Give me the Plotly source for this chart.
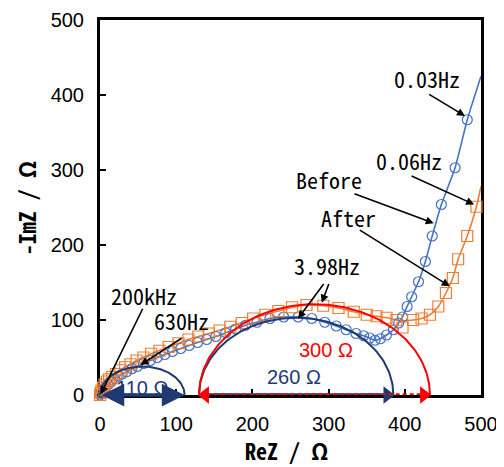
import numpy as np
import plotly.graph_objects as go

# ---------------- data ----------------
before_x = [0, 1, 3, 5, 8, 11, 15, 19, 24, 29, 35, 42, 49, 57, 66, 75, 85, 95, 106, 117,
            128, 140, 152, 165, 178, 191, 206, 223, 241, 260, 278, 295, 310, 323, 336, 346,
            354, 361, 368, 376, 385, 392, 397, 403, 409, 418, 427, 436, 448, 466, 482]
before_y = [0, 2, 5, 8, 11, 14, 18, 22, 25, 28, 31, 35, 38, 42, 46, 50, 54, 58, 62, 66,
            70, 74, 78, 83, 88, 93, 97, 102, 104, 104, 102, 97, 92, 87, 82, 79,
            76, 73, 75, 80, 87, 96, 104, 118, 131, 151, 178, 212, 254, 303, 367]

after_x = [0, 1, 2, 4, 6, 9, 12, 16, 21, 27, 33, 40, 48, 57, 67, 78, 90, 103, 116, 129,
           143, 157, 171, 186, 201, 217, 234, 252, 271, 293, 313, 333, 350, 363, 376, 389,
           397, 411, 422, 433, 444, 454, 463, 470, 482, 494]
after_y = [0, 3, 6, 10, 14, 18, 21, 24, 28, 33, 37, 41, 46, 50, 55, 59, 64, 69, 74, 78,
           82, 86, 91, 96, 102, 107, 112, 117, 120, 119, 116, 111, 107, 105, 103, 100,
           90, 100, 102, 107, 118, 136, 156, 181, 212, 251]

# fitted lines (same path, extended to the right frame)
before_fit_x = before_x + [500]
before_fit_y = before_y + [425]
after_fit_x = [0, 2, 6, 12, 21, 33, 48, 67, 90, 116, 143, 171, 201, 234, 271, 293, 313,
               333, 350, 376, 389, 400, 411, 422, 433, 444, 454, 463, 470, 482, 494, 500]
after_fit_y = [0, 6, 14, 21, 28, 37, 46, 55, 64, 74, 82, 91, 102, 112, 120, 119, 116,
               111, 107, 103, 100, 99, 100, 102, 107, 118, 136, 156, 181, 212, 251, 278]

# equivalent-circuit guide arcs (start, end, height) and their labels
arc_start = [0, 130, 130]
arc_end = [111, 385, 433]
arc_top = [38, 103, 121]
arc_label = ["110 Ω", "260 Ω", "300 Ω"]
arc_label_x = [55, 254, 297]
arc_label_y = [10, 24, 60]

# text labels and arrows (tail -> head)
note_text = ["0.03Hz", "0.06Hz", "Before", "After", "3.98Hz", "200kHz", "630Hz"]
note_x = [429, 405, 300, 326, 298, 58, 107]
note_y = [423, 313, 288, 238, 173, 133, 100]
arrow_tail_x = [430, 407, 332, 339, 295, 301, 57, 109]
arrow_tail_y = [402, 293, 269, 221, 150, 150, 117, 77]
arrow_head_x = [479, 491, 438, 459, 260, 291, 1, 53]
arrow_head_y = [372, 254, 229, 145, 102, 123, 1, 40]

xticks = [0, 100, 200, 300, 400, 500]
yticks = [0, 100, 200, 300, 400, 500]
x_title = "ReZ / Ω"
y_title = "-ImZ / Ω"

BLUE = "#4472C4"
ORANGE = "#ED7D31"
NAVY = "#1F3A73"
RED = "#FF0000"
arc_color = [NAVY, NAVY, RED]

MONO = "Noto Sans Mono CJK JP, DejaVu Sans Mono, monospace"
SANS = "Liberation Sans, Arial, sans-serif"

fig = go.Figure()

# fitted lines
fig.add_trace(go.Scatter(x=before_fit_x, y=before_fit_y, mode="lines",
                         line=dict(color=BLUE, width=1.6, shape="spline", smoothing=0.5),
                         hoverinfo="skip", showlegend=False))
fig.add_trace(go.Scatter(x=after_fit_x, y=after_fit_y, mode="lines",
                         line=dict(color=ORANGE, width=1.6, shape="spline", smoothing=0.5),
                         hoverinfo="skip", showlegend=False))
# markers
fig.add_trace(go.Scatter(x=before_x, y=before_y, mode="markers", name="Before",
                         marker=dict(symbol="circle-open", size=10, color=BLUE,
                                     line=dict(width=1.2, color=BLUE)),
                         cliponaxis=False, showlegend=False))
fig.add_trace(go.Scatter(x=after_x, y=after_y, mode="markers", name="After",
                         marker=dict(symbol="square-open", size=11, color=ORANGE,
                                     line=dict(width=1.2, color=ORANGE)),
                         cliponaxis=False, showlegend=False))

# guide arcs (semi-ellipses)
t = np.linspace(0, np.pi, 121)
for s, e, h, c in zip(arc_start, arc_end, arc_top, arc_color):
    cx = (s + e) / 2
    rx = (e - s) / 2
    fig.add_trace(go.Scatter(x=cx + rx * np.cos(t), y=h * np.sin(t), mode="lines",
                             line=dict(color=c, width=2), hoverinfo="skip",
                             showlegend=False))

# arrowheads for the baseline arrows (triangle markers just inside the tips)
head_off = 8
fig.add_trace(go.Scatter(x=[arc_end[1] - head_off], y=[0], mode="markers",
                         marker=dict(symbol="triangle-right", size=15, color=NAVY,
                                     line=dict(width=0)),
                         cliponaxis=False, hoverinfo="skip", showlegend=False))
fig.add_trace(go.Scatter(x=[arc_start[2] + head_off, arc_end[2] - head_off], y=[0, 0],
                         mode="markers",
                         marker=dict(symbol=["triangle-left", "triangle-right"], size=15,
                                     color=RED, line=dict(width=0)),
                         cliponaxis=False, hoverinfo="skip", showlegend=False))

shapes = [
    # navy base line under the big arcs
    dict(type="line", xref="x", yref="y", x0=arc_start[1] + 10, x1=arc_end[1] - 12, y0=0, y1=0,
         line=dict(color=NAVY, width=3.5), layer="above"),
    # red dashed line
    dict(type="line", xref="x", yref="y", x0=arc_start[2] + 10, x1=arc_end[2] - 12, y0=0, y1=0,
         line=dict(color=RED, width=3.5, dash="4px,3px"), layer="above"),
]

annotations = []
# small navy double arrow
annotations.append(dict(x=arc_end[0], y=0, ax=arc_start[0], ay=0, xref="x", yref="y",
                        axref="x", ayref="y", text="", showarrow=True, arrowside="end+start",
                        arrowhead=2, arrowsize=1.3, arrowwidth=3.5, arrowcolor=NAVY))

# arc labels
for lx, ly, txt, c in zip(arc_label_x, arc_label_y, arc_label, arc_color):
    annotations.append(dict(x=lx, y=ly, xref="x", yref="y", text=txt, showarrow=False,
                            font=dict(family=SANS, size=20, color=c)))

# frequency / series labels
for nx, ny, txt in zip(note_x, note_y, note_text):
    annotations.append(dict(x=nx, y=ny, xref="x", yref="y", text=txt, showarrow=False,
                            font=dict(family=MONO, size=22, color="black")))
# black arrows
for tx, ty, hx, hy in zip(arrow_tail_x, arrow_tail_y, arrow_head_x, arrow_head_y):
    annotations.append(dict(x=hx, y=hy, ax=tx, ay=ty, xref="x", yref="y", axref="x",
                            ayref="y", text="", showarrow=True, arrowhead=2, arrowsize=1,
                            arrowwidth=1.6, arrowcolor="black"))

# axis titles
title_font = dict(family=MONO, size=22, color="black", weight="bold")
annotations.append(dict(text=x_title, xref="paper", yref="paper", x=0.49, y=-0.147,
                        xanchor="center", yanchor="middle", showarrow=False,
                        font=title_font))
annotations.append(dict(text=y_title, xref="paper", yref="paper", x=-0.195, y=0.5,
                        xanchor="center", yanchor="middle", showarrow=False,
                        textangle=-90, font=title_font))

axis_common = dict(range=[0, 500], showgrid=False, zeroline=False, showline=True,
                   linewidth=3, linecolor="black", mirror=True, ticks="inside",
                   ticklen=6, tickwidth=1.5, tickcolor="black",
                   tickfont=dict(family=SANS, size=20, color="black"),
                   ticklabelstandoff=9, automargin=False, layer="below traces")

# page body has an 8px margin, so the figure is sized to fit inside the window
fig.update_layout(
    width=496, height=459,
    margin=dict(l=92, r=23, t=12, b=72),
    paper_bgcolor="white", plot_bgcolor="white",
    xaxis=dict(**axis_common, tickvals=xticks),
    yaxis=dict(**axis_common, tickvals=yticks),
    shapes=shapes,
    annotations=annotations,
)

fig.write_html("out.html")
